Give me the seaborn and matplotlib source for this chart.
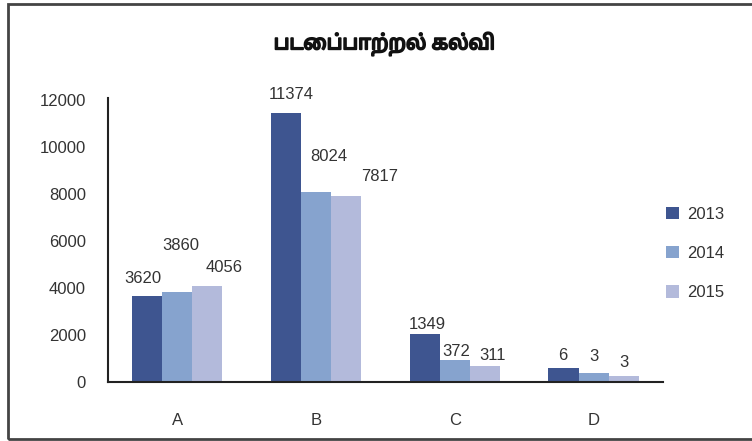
#!/usr/bin/env python3

import pandas as pd
import numpy as np
import seaborn as sns
import matplotlib.pyplot as plt
import matplotlib.patheffects as pe
from matplotlib.patches import Patch, Rectangle

title = 'படைப்பாற்றல் கல்வி'
categories = ['A', 'B', 'C', 'D']
years = ['2013', '2014', '2015']
# bar heights as drawn in the picture
bars_2013 = [3670, 11460, 2040, 595]
bars_2014 = [3860, 8110, 965, 397]
bars_2015 = [4110, 7930, 710, 268]
# numbers written over the bars
labels_2013 = ['3620', '11374', '1349', '6']
labels_2014 = ['3860', '8024', '372', '3']
labels_2015 = ['4056', '7817', '311', '3']

colors = ['#3e5590', '#86a3ce', '#b3badb']
text_color = '#333333'

# label offsets (pixels) from top centre of each bar
offsets = {
    '2013': [(-4, 18), (5, 19), (3, 10), (-1, 13)],
    '2014': [(3, 46), (13, 35), (1, 8), (0, 16)],
    '2015': [(17, 18), (33, 19), (8, 10), (0, 14)],
}

rows = []
for yr, vals in zip(years, [bars_2013, bars_2014, bars_2015]):
    for cat, v in zip(categories, vals):
        rows.append({'cat': cat, 'year': yr, 'value': v})
df = pd.DataFrame(rows)

sns.set_style('white')
plt.rcParams['font.family'] = ['Liberation Sans', 'DejaVu Sans']

fig = plt.figure(figsize=(7.52, 4.41), dpi=100)
ax = fig.add_axes([0.1436, 0.1331, 0.738, 0.6447])

sns.barplot(data=df, x='cat', y='value', hue='year', palette=colors,
            width=0.65, saturation=1, linewidth=0, ax=ax, legend=False)

ax.set_ylim(0, 12100)
ax.set_xlim(-0.5, 3.5)
ax.set_yticks(np.arange(0, 12001, 2000))
ax.set_xlabel('')
ax.set_ylabel('')
ax.tick_params(axis='y', length=0, pad=16, labelsize=12, labelcolor=text_color)
ax.tick_params(axis='x', length=0, pad=22, labelsize=12, labelcolor=text_color)
for side in ['top', 'right']:
    ax.spines[side].set_visible(False)
for side in ['left', 'bottom']:
    ax.spines[side].set_color('#222222')
    ax.spines[side].set_linewidth(1.5)

all_labels = {'2013': labels_2013, '2014': labels_2014, '2015': labels_2015}
for yr, cont in zip(years, ax.containers):
    for bar, lab, (dx, dy) in zip(cont, all_labels[yr], offsets[yr]):
        x = bar.get_x() + bar.get_width() / 2
        y = bar.get_height()
        ax.annotate(lab, (x, y), xytext=(dx, dy), textcoords='offset pixels',
                    ha='center', va='center', fontsize=12, color=text_color)

handles = [Patch(facecolor=c, edgecolor='none') for c in colors]
fig.legend(handles, years, loc='center left', bbox_to_anchor=(0.866, 0.425),
           frameon=False, fontsize=12, handlelength=0.75, handleheight=0.75,
           handletextpad=0.5, labelspacing=1.45, labelcolor=text_color)

fig.text(0.511, 1 - 44 / 441, title, ha='center', va='center', fontsize=14.5,
         fontweight='bold', color='#111111',
         family=['Noto Sans Tamil', 'Lohit Tamil', 'Noto Sans', 'DejaVu Sans'],
         path_effects=[pe.withStroke(linewidth=1.3, foreground='#111111')])

# outer frame
fig.patches.append(Rectangle((8 / 752, 2 / 441), 1.0, 1 - 6 / 441, transform=fig.transFigure,
                             fill=False, edgecolor='#444444', linewidth=2))

fig.savefig('out.png', dpi=100)
